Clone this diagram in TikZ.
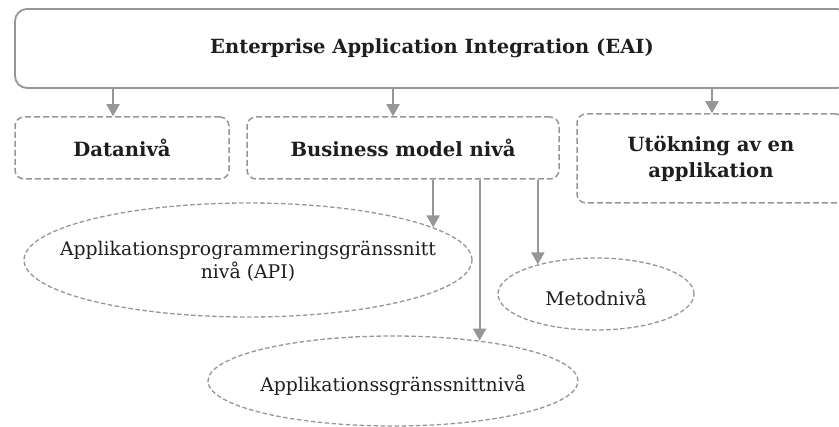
\documentclass[tikz,border=0pt]{standalone}
\usepackage{fontspec}
\setmainfont{DejaVu Serif}
\usetikzlibrary{arrows.meta,shapes.geometric}
\definecolor{edgegray}{HTML}{969696}
\definecolor{inkgray}{HTML}{1E1E1E}

\tikzset{
  topbox/.style={draw=edgegray, line width=1.8pt, rounded corners=12pt,
    rectangle, inner sep=0pt, text=inkgray,
    font=\fontsize{19.5}{23}\selectfont\bfseries},
  levelbox/.style={draw=edgegray, line width=1.5pt, dash pattern=on 6pt off 3pt,
    rounded corners=9pt, rectangle, inner sep=0pt, align=center, text=inkgray,
    font=\fontsize{19.6}{26}\selectfont\bfseries},
  oval/.style={draw=edgegray, line width=1.3pt, dash pattern=on 4.5pt off 2.5pt,
    ellipse, inner sep=0pt},
  ovaltext/.style={inner sep=0pt, align=center, text=inkgray,
    font=\fontsize{18.8}{23}\selectfont},
  arr/.style={draw=edgegray, line width=2pt,
    -{Triangle[width=13pt,length=12pt]}},
}

\begin{document}
\begin{tikzpicture}[x=1pt,y=-1pt]
\useasboundingbox (0,0) rectangle (839,427);
\clip (0,0) rectangle (839,427);

% top level
\node[topbox, minimum width=834pt, minimum height=79pt] (eai) at (432,48.5)
  {Enterprise Application Integration (EAI)};

% integration levels
\node[levelbox, minimum width=214pt, minimum height=62pt] (data) at (122,148) {Datanivå};
\node[levelbox, minimum width=312pt, minimum height=62pt] (bm) at (403,148) {Business model nivå};
\node[levelbox, minimum width=268pt, minimum height=89pt] (ext) at (711,158.5)
  {Utökning av en\\applikation};

% business model sub-levels: outlines, then their labels
\node[oval, minimum width=448pt, minimum height=114pt] (api) at (248,260) {};
\node[oval, minimum width=196pt, minimum height=72pt] (met) at (596,294) {};
\node[oval, minimum width=370pt, minimum height=90pt] (ui) at (393,381) {};

\node[ovaltext] (apit) at ([yshift=-1.5pt]api.center)
  {Applikationsprogrammeringsgränssnitt\\nivå (API)};
\node[ovaltext] (mett) at ([yshift=-3pt]met.center) {Metodnivå};
\node[ovaltext] (uit) at ([yshift=-4pt]ui.center) {Applikationssgränssnittnivå};

% arrow columns below the top box
\coordinate (cd) at (113,0);
\coordinate (cb) at (393,0);
\coordinate (ce) at (712,0);

\draw[arr] (eai.south -| cd) -- (data.north -| cd);
\draw[arr] (eai.south -| cb) -- (bm.north -| cb);
\draw[arr] (eai.south -| ce) -- (ext.north -| ce);

\draw[arr] (bm.south -| api.10) -- (api.10);
\draw[arr] (bm.south -| ui.25) -- (ui.25);
\draw[arr] (bm.south -| met.153) -- (met.153);
\end{tikzpicture}
\end{document}
